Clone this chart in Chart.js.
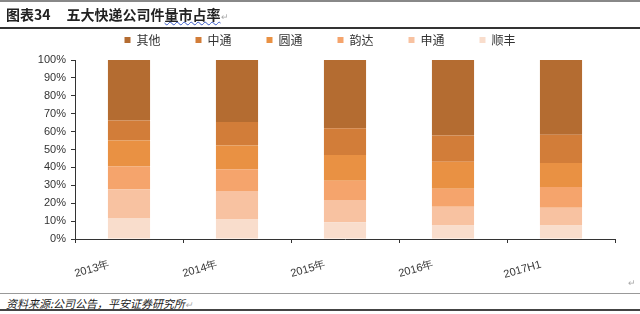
<!DOCTYPE html>
<html>
<head>
<meta charset="utf-8">
<script src="https://cdn.jsdelivr.net/npm/chart.js@4"></script>
<style>
  html, body { margin: 0; padding: 0; background: #fff; }
  body { width: 640px; height: 314px; position: relative; overflow: hidden; font-family: "Noto Sans CJK SC", sans-serif; }
  .topline { position: absolute; left: 0; top: 0; width: 640px; height: 2px; background: #888; }
  .title { position: absolute; left: 6px; top: 4px; font-size: 14px; font-weight: bold; color: #222; white-space: nowrap; }
  .title .num { margin-right: 16px; }
  .title .wavy { text-decoration: underline wavy #3a5bc7; text-decoration-thickness: 1px; }
  .mark { color: #aaa; font-size: 9px; font-weight: normal; }
  .line1 { position: absolute; left: 0; top: 27px; width: 640px; height: 2px; background: #333; }
  .wrap { position: absolute; left: 0; top: -1px; width: 640px; height: 291px; }
  .pmark { position: absolute; left: 628px; top: 276px; color: #aaa; font-size: 9px; }
  .line2 { position: absolute; left: 0; top: 293px; width: 640px; height: 1px; background: #999; }
  .source { position: absolute; left: 6px; top: 295px; font-size: 11px; font-style: italic; color: #222; white-space: nowrap; }
  .line3 { position: absolute; left: 0; top: 309px; width: 640px; height: 2px; background: #444; }
</style>
</head>
<body>
<div class="wrap"><canvas id="shareChart" width="640" height="291"></canvas></div>
<div class="topline"></div>
<div class="title"><span class="num">图表34</span>五大快递公司件<span class="wavy">量市占率</span><span class="mark">↵</span></div>
<div class="line1"></div>
<div class="pmark">↵</div>
<div class="line2"></div>
<div class="source">资料来源:公司公告，平安证券研究所<span class="mark">↵</span></div>
<div class="line3"></div>
<script>
// share of parcel volume, %
const years = ['2013年', '2014年', '2015年', '2016年', '2017H1'];
const sf = [11.8, 10.9, 9.4, 7.5, 7.5];      // 顺丰
const sto = [16.0, 15.9, 12.4, 10.5, 9.9];   // 申通
const yd = [12.7, 12.2, 10.7, 10.1, 11.7];   // 韵达
const yto = [14.5, 13.2, 14.4, 15.1, 13.3];  // 圆通
const zto = [11.2, 13.1, 15.0, 14.6, 15.8];  // 中通
const other = [33.8, 34.7, 38.1, 42.2, 41.8]; // 其他
const yTicks = [0, 10, 20, 30, 40, 50, 60, 70, 80, 90, 100];

const series = [
    { label: '顺丰', data: sf, color: '#f9ddcc' },
    { label: '申通', data: sto, color: '#f8c2a1' },
    { label: '韵达', data: yd, color: '#f5a46c' },
    { label: '圆通', data: yto, color: '#e99143' },
    { label: '中通', data: zto, color: '#d27d39' },
    { label: '其他', data: other, color: '#b46c31' }
];

const axisColor = '#333';
const tickFont = { family: '"Liberation Sans", Arial, sans-serif', size: 11 };

new Chart(document.getElementById('shareChart'), {
    type: 'bar',
    data: {
        labels: years,
        datasets: series.map(s => ({
            label: s.label,
            data: s.data,
            backgroundColor: s.color,
            borderWidth: 0,
            categoryPercentage: 1,
            barPercentage: 0.39
        }))
    },
    options: {
        responsive: false,
        animation: false,
        layout: { padding: { left: 25, right: 25, top: 0, bottom: 0 } },
        plugins: {
            tooltip: { enabled: false },
            // empty title used only as a small gap between legend and plot
            title: { display: true, text: '', weight: 0, padding: 0, font: { size: 4, lineHeight: 1 } },
            legend: {
                reverse: true,
                labels: {
                    boxWidth: 6,
                    boxHeight: 6,
                    padding: 35,
                    color: '#333',
                    font: { family: '"Noto Sans CJK SC", sans-serif', size: 12 }
                }
            }
        },
        scales: {
            x: {
                stacked: true,
                afterFit: scale => { scale.height = 51; },
                border: { display: true, color: axisColor, width: 1 },
                grid: { display: true, offset: true, drawOnChartArea: false, drawTicks: true, tickLength: 4, color: axisColor },
                ticks: {
                    color: '#333',
                    font: tickFont,
                    minRotation: 16,
                    maxRotation: 16,
                    labelOffset: -20,
                    padding: 15
                }
            },
            y: {
                stacked: true,
                min: 0,
                max: 100,
                afterFit: scale => { scale.width = 50; },
                afterBuildTicks: scale => { scale.ticks = yTicks.map(v => ({ value: v })); },
                border: { display: true, color: axisColor, width: 1 },
                grid: { display: true, drawOnChartArea: false, drawTicks: true, tickLength: 4, color: axisColor },
                ticks: {
                    autoSkip: false,
                    color: '#333',
                    font: tickFont,
                    padding: 5,
                    callback: v => v + '%'
                }
            }
        }
    }
});
</script>
</body>
</html>
